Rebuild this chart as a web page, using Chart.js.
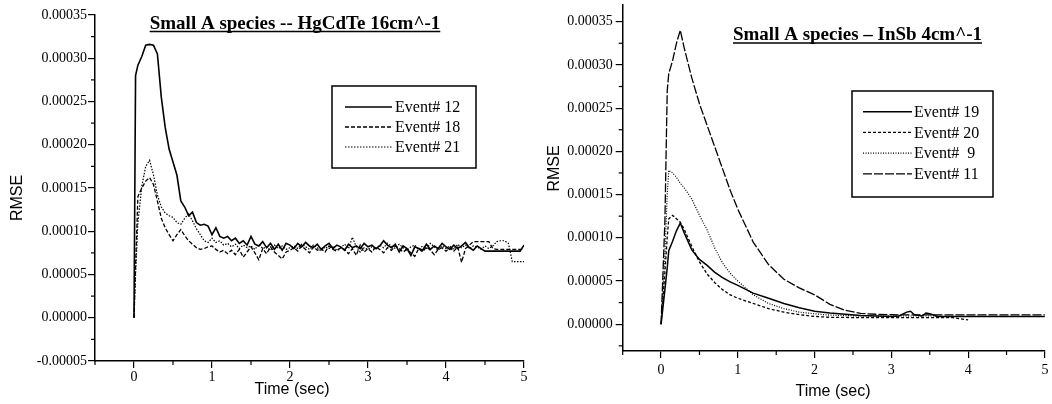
<!DOCTYPE html>
<html>
<head>
<meta charset="utf-8">
<script src="https://cdn.jsdelivr.net/npm/chart.js@4.4.1/dist/chart.umd.min.js"></script>
<style>
  body { margin: 0; background: #fff; width: 1052px; height: 404px; overflow: hidden; position: relative; }
  canvas { position: absolute; top: 0; }
  #left { left: 0; }
  #right { left: 530px; }
</style>
</head>
<body>
<canvas id="left" width="530" height="404"></canvas>
<canvas id="right" width="522" height="404"></canvas>
<script>
// RMSE values are written in units of 1e-5
var UNIT = 1e-5;

// ---- left panel: HgCdTe 16cm^-1 ----
var timeA = [0, 0.02, 0.05, 0.1, 0.15, 0.2, 0.25, 0.3, 0.35, 0.4, 0.45, 0.5, 0.55, 0.6, 0.65, 0.7, 0.75, 0.8, 0.85, 0.9, 0.95, 1.0,
  1.05, 1.1, 1.15, 1.2, 1.25, 1.3, 1.35, 1.4, 1.45, 1.5, 1.55, 1.6, 1.65, 1.7, 1.75, 1.8, 1.85, 1.9, 1.95, 2.0,
  2.05, 2.1, 2.15, 2.2, 2.25, 2.3, 2.35, 2.4, 2.45, 2.5, 2.55, 2.6, 2.65, 2.7, 2.75, 2.8, 2.85, 2.9, 2.95, 3.0,
  3.05, 3.1, 3.15, 3.2, 3.25, 3.3, 3.35, 3.4, 3.45, 3.5, 3.55, 3.6, 3.65, 3.7, 3.75, 3.8, 3.85, 3.9, 3.95, 4.0,
  4.05, 4.1, 4.15, 4.2, 4.25, 4.3, 4.35, 4.4, 4.45, 4.5, 4.55, 4.6, 4.65, 4.7, 4.75, 4.8, 4.85, 4.9, 4.95, 5.0];

var event12 = [0, 28, 29.2, 30.2, 31.5, 31.6, 31.5, 30.5, 25.5, 22, 19.5, 18, 16.5, 13.5, 12.8, 11.8, 12.2, 11.0, 10.7, 10.8, 10.6, 9.6,
  10.4, 9.4, 9.2, 9.4, 8.9, 9.2, 8.6, 8.9, 8.4, 9.4, 8.5, 8.3, 8.8, 8.1, 8.6, 7.9, 8.5, 7.8, 8.6, 8.4,
  8.0, 8.6, 8.2, 8.7, 8.3, 8.1, 8.5, 7.9, 8.3, 8.6, 8.0, 8.4, 8.2, 7.8, 8.5, 8.1, 8.3, 8.0, 8.6, 8.2,
  8.4, 8.0, 8.3, 8.9, 8.4, 8.1, 8.5, 7.6, 8.3, 8.0, 7.2, 8.2, 8.0, 7.8, 8.5, 7.9, 8.3, 8.0, 8.6, 8.2,
  7.9, 8.4, 8.0, 8.3, 8.7, 8.1, 7.8, 8.3, 8.0, 7.7, 7.7, 7.7, 7.7, 7.7, 7.7, 7.7, 7.7, 7.7, 7.7, 8.4];

var event18 = [0, 6, 14, 15, 15.8, 16.2, 15.4, 13.5, 11.5, 10.4, 9.6, 8.9, 9.6, 10.2, 9.5, 8.9, 8.5, 8.1, 7.9, 8.0, 8.2, 8.3,
  7.9, 7.6, 7.8, 7.4, 7.8, 7.3, 7.9, 7.0, 7.6, 8.2, 7.5, 6.7, 8.0, 7.4, 8.2, 7.6, 7.2, 6.8, 7.6, 7.8,
  8.1, 7.7, 8.3, 7.9, 7.5, 8.2, 7.8, 8.0, 7.6, 8.3, 7.9, 7.7, 8.1, 7.9, 7.4, 8.0, 7.2, 8.4, 7.6, 8.0,
  7.6, 8.2, 7.9, 7.5, 8.1, 7.8, 8.3, 8.0, 7.6, 7.9, 7.5, 7.1, 8.0, 7.6, 8.2, 7.8, 7.3, 7.9, 8.1, 7.7,
  8.1, 7.7, 8.2, 6.4, 8.0, 8.4, 8.8, 8.8, 8.8, 8.8, 8.8, 8.0, 7.9, 7.9, 7.9, 7.9, 7.9, 7.9, 7.9, 7.9];

var event21 = [0, 5, 11, 15.2, 17.5, 18.2, 16.5, 14.2, 12.8, 12.1, 11.8, 11.6, 11.0, 10.8, 11.5, 12.0, 11.2, 10.3, 9.6, 8.9, 8.7, 9.2,
  8.7, 8.9, 8.4, 8.6, 8.2, 8.5, 8.0, 8.4, 8.1, 8.3, 7.9, 8.5, 8.0, 8.2, 7.8, 8.4, 8.0, 8.3, 7.9, 8.1,
  8.3, 8.0, 8.5, 8.2, 7.9, 8.4, 8.1, 7.7, 8.2, 8.0, 8.3, 7.8, 8.1, 8.5, 8.0, 9.3, 8.2, 7.6, 8.1, 7.9,
  8.2, 7.9, 8.4, 8.1, 8.6, 8.3, 8.0, 8.5, 8.1, 7.8, 8.2, 8.4, 7.9, 8.3, 8.0, 8.6, 8.2, 7.8, 8.3, 8.0,
  8.3, 7.9, 8.5, 8.1, 8.4, 8.0, 8.3, 8.2, 7.9, 8.3, 8.0, 8.3, 8.8, 8.9, 8.9, 8.6, 6.5, 6.5, 6.5, 6.5];

// ---- right panel: InSb 4cm^-1 ----
var timeB = [0, 0.05, 0.08, 0.1, 0.15, 0.2, 0.25, 0.3, 0.4, 0.5, 0.6, 0.7, 0.8, 0.9, 1.0, 1.2, 1.4, 1.6, 1.8, 2.0,
  2.2, 2.4, 2.6, 2.8, 3.0, 3.1, 3.2, 3.25, 3.3, 3.4, 3.45, 3.5, 3.6, 3.8, 4.0, 4.5, 5.0];

var event19 = [0, 4, 6.5, 8.5, 9.6, 10.8, 11.7, 10.6, 8.6, 7.5, 6.8, 6.0, 5.4, 4.9, 4.5, 3.6, 3.0, 2.4, 1.9, 1.5,
  1.3, 1.15, 1.0, 0.95, 0.9, 0.95, 1.4, 1.5, 1.1, 0.95, 1.3, 1.2, 0.9, 0.88, 0.88, 0.88, 0.88];
var event20 = [0, 6, 10, 12.2, 12.6, 12.2, 11.8, 11.0, 9.0, 7.2, 5.8, 4.8, 4.0, 3.4, 3.0, 2.4, 1.8, 1.4, 1.1, 0.9,
  0.8, 0.78, 0.76, 0.75, 0.75, 0.75, 0.75, 0.75, 0.75, 0.75, 0.75, 0.75, 0.75, 0.75, 0.5, null, null];
var event9 = [0, 8, 15, 17.8, 17.5, 17.0, 16.3, 15.8, 14.5, 12.6, 10.9, 8.8, 7.1, 5.9, 5.0, 3.4, 2.4, 1.8, 1.4, 1.2,
  1.05, 1.0, 0.95, 0.95, 0.95, 0.95, 0.95, 0.95, 0.95, 0.95, 0.95, 0.95, 0.95, null, null, null, null];
var event11 = [0, 12, 27, 29, 30.5, 32.5, 34, 32, 28.5, 25.5, 23, 20.5, 18, 15.5, 13.3, 9.5, 6.9, 5.2, 4.2, 3.4,
  2.3, 1.6, 1.25, 1.15, 1.1, 1.08, 1.08, 1.08, 1.08, 1.08, 1.08, 1.08, 1.08, 1.07, 1.07, 1.07, 1.07];

var xTicks = [0, 1, 2, 3, 4, 5];
var yTicksA = [-0.00005, 0, 0.00005, 0.0001, 0.00015, 0.0002, 0.00025, 0.0003, 0.00035];
var yTicksB = [0, 0.00005, 0.0001, 0.00015, 0.0002, 0.00025, 0.0003, 0.00035];

function points(time, vals) {
  return time.map(function (t, i) {
    var v = vals[i];
    return { x: t, y: (v === null || v === undefined) ? null : v * UNIT };
  });
}

// titles, boxed legend, axis titles and minor ticks
var decor = {
  id: 'decor',
  afterDraw: function (chart, args, o) {
    var ctx = chart.ctx;
    ctx.save();
    ctx.strokeStyle = '#000';
    ctx.fillStyle = '#000';

    // minor ticks halfway between the major ones
    ['x', 'y'].forEach(function (id) {
      var s = chart.scales[id];
      var t = s.ticks.map(function (k) { return k.value; });
      var step = t[1] - t[0];
      var minors = [];
      for (var i = 0; i < t.length - 1; i++) minors.push((t[i] + t[i + 1]) / 2);
      if (t[0] - step / 2 >= s.min - 1e-12) minors.unshift(t[0] - step / 2);
      if (t[t.length - 1] + step / 2 <= s.max + 1e-12) minors.push(t[t.length - 1] + step / 2);
      ctx.lineWidth = 1.2;
      minors.forEach(function (v) {
        var p = s.getPixelForValue(v);
        ctx.beginPath();
        if (id === 'x') { ctx.moveTo(p, s.top); ctx.lineTo(p, s.top + 4); }
        else { ctx.moveTo(s.right, p); ctx.lineTo(s.right - 4, p); }
        ctx.stroke();
      });
    });

    // underlined title
    ctx.font = 'bold 19px "Liberation Serif"';
    ctx.textAlign = 'center';
    ctx.textBaseline = 'alphabetic';
    ctx.fillText(o.title.text, o.title.x, o.title.y);
    var w = ctx.measureText(o.title.text).width;
    ctx.lineWidth = 1.5;
    ctx.beginPath();
    ctx.moveTo(o.title.x - w / 2, o.title.y + 3);
    ctx.lineTo(o.title.x + w / 2, o.title.y + 3);
    ctx.stroke();

    // axis titles
    ctx.font = '16px "Liberation Sans"';
    ctx.textBaseline = 'middle';
    ctx.fillText('Time (sec)', o.xTitle.x, o.xTitle.y);
    ctx.save();
    ctx.translate(o.yTitle.x, o.yTitle.y);
    ctx.rotate(-Math.PI / 2);
    ctx.fillText('RMSE', 0, 0);
    ctx.restore();

    // legend box
    var L = o.box;
    ctx.lineWidth = 1.5;
    ctx.strokeRect(L.x, L.y, L.w, L.h);
    ctx.font = '16px "Liberation Serif"';
    ctx.textAlign = 'left';
    chart.data.datasets.forEach(function (ds, i) {
      var y = L.row0 + i * L.gap;
      ctx.lineWidth = ds.borderWidth;
      ctx.setLineDash(ds.borderDash || []);
      ctx.beginPath();
      ctx.moveTo(L.s1, y);
      ctx.lineTo(L.s2, y);
      ctx.stroke();
      ctx.setLineDash([]);
      ctx.fillText(ds.label, L.tx, y + 1);
    });
    ctx.restore();
  }
};

function axisOpts(min, max, ticks, fit, isY, pad) {
  return {
    type: 'linear',
    min: min,
    max: max,
    afterBuildTicks: function (s) { s.ticks = ticks.map(function (v) { return { value: v }; }); },
    afterFit: function (s) {
      if (isY) { s.width = fit; s.paddingTop = 0; s.paddingBottom = 0; }
      else { s.height = fit; }
    },
    grid: { drawOnChartArea: false, tickLength: 7, color: '#000', lineWidth: 1.2 },
    border: { color: '#000', width: 1.5 },
    ticks: {
      color: '#000',
      padding: pad,
      maxRotation: 0,
      autoSkip: false,
      font: { family: '"Liberation Serif"', size: 14 },
      callback: isY ? function (v) { return Number(v).toFixed(5); } : function (v) { return String(v); }
    }
  };
}

function makeChart(id, datasets, cfg) {
  return new Chart(document.getElementById(id), {
    type: 'line',
    data: { datasets: datasets },
    options: {
      responsive: false,
      animation: false,
      devicePixelRatio: 1,
      layout: { padding: cfg.padding },
      elements: { point: { radius: 0 }, line: { tension: 0, borderColor: '#000' } },
      plugins: { legend: { display: false }, tooltip: { enabled: false }, decor: cfg.decor },
      scales: { x: cfg.x, y: cfg.y }
    },
    plugins: [decor]
  });
}

makeChart('left', [
  { label: 'Event# 12', data: points(timeA, event12), borderColor: '#000', borderWidth: 1.6, borderDash: [] },
  { label: 'Event# 18', data: points(timeA, event18), borderColor: '#000', borderWidth: 1.3, borderDash: [4, 2] },
  { label: 'Event# 21', data: points(timeA, event21), borderColor: '#000', borderWidth: 1.2, borderDash: [1.5, 1.5] }
], {
  padding: { top: 15, right: 6, left: 0, bottom: 0 },
  x: axisOpts(-0.5, 5, xTicks, 43, false, 1),
  y: axisOpts(-0.00005, 0.00035, yTicksA, 95, true, 1),
  decor: {
    title: { text: 'Small A species -- HgCdTe 16cm^-1', x: 295, y: 28.5 },
    xTitle: { x: 292, y: 390 },
    yTitle: { x: 18, y: 198 },
    box: { x: 332, y: 86, w: 144, h: 82, row0: 107, gap: 20, s1: 345, s2: 392, tx: 395 }
  }
});

makeChart('right', [
  { label: 'Event# 19', data: points(timeB, event19), borderColor: '#000', borderWidth: 1.5, borderDash: [] },
  { label: 'Event# 20', data: points(timeB, event20), borderColor: '#000', borderWidth: 1.3, borderDash: [3, 2] },
  { label: 'Event#  9', data: points(timeB, event9), borderColor: '#000', borderWidth: 1.2, borderDash: [1, 1.5] },
  { label: 'Event# 11', data: points(timeB, event11), borderColor: '#000', borderWidth: 1.3, borderDash: [9, 2] }
], {
  padding: { top: 4.4, right: 5.3, left: 0, bottom: 0 },
  x: axisOpts(-0.5, 5, xTicks, 53, false, 3.6),
  y: axisOpts(-0.000031, 0.00037, yTicksB, 92.7, true, 3),
  decor: {
    title: { text: 'Small A species \u2013 InSb 4cm^-1', x: 327.5, y: 40 },
    xTitle: { x: 303, y: 392 },
    yTitle: { x: 24.5, y: 168.5 },
    box: { x: 322, y: 91, w: 141, h: 106, row0: 111.7, gap: 20.7, s1: 333, s2: 382, tx: 384 }
  }
});
</script>
</body>
</html>
